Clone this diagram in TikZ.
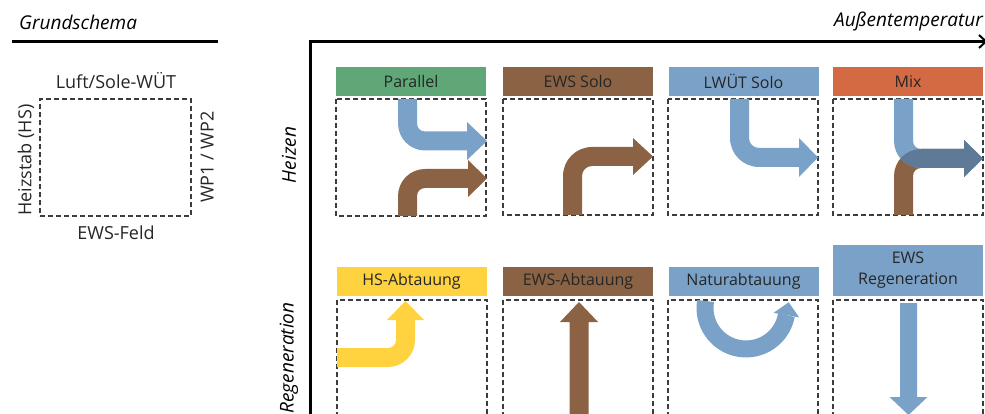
\documentclass[tikz,border=0pt]{standalone}
\usepackage{fontspec}
\setmainfont{Open Sans}
\usetikzlibrary{arrows.meta}

\definecolor{hgreen}{HTML}{5FA777}
\definecolor{hbrown}{HTML}{8B6244}
\definecolor{hblue}{HTML}{7AA2C8}
\definecolor{horange}{HTML}{D46A43}
\definecolor{hyellow}{HTML}{FFD240}
\definecolor{hmix}{HTML}{5E7A96}
\definecolor{txt}{HTML}{262626}
\definecolor{dashcol}{HTML}{3C3C3C}

\tikzset{
  lbl/.style={font=\fontsize{18}{21}\selectfont, text=txt, inner sep=0pt},
  axislbl/.style={font=\fontsize{19}{22}\selectfont\itshape, text=black, inner sep=0pt},
  head/.style={inner sep=0pt, minimum width=150pt, minimum height=29pt,
    font=\fontsize{16}{19}\selectfont, text=txt, align=center},
  frame/.style={draw=dashcol, line width=1.2pt, dash pattern=on 5pt off 3pt},
  axis/.style={line width=3pt, black},
}

\begin{document}
\begin{tikzpicture}[x=1pt, y=-1pt]
\useasboundingbox (0,0) rectangle (985,414);
\clip (0,0) rectangle (985,414);

% ---------- legend: basic scheme ----------
\node[axislbl, anchor=west] (gtitle) at (19,22) {Grundschema};
\coordinate (gl) at (12,41.5);
\coordinate (gr) at (218,41.5);
\draw[axis] (gl) -- (gr);

\node[frame, minimum width=151pt, minimum height=117pt, inner sep=0pt] (gbox) at (115.5,157.5) {};
\node[lbl] (gtop) at (116,81) {Luft/Sole-WÜT};
\node[lbl] (gbot) at (116,233) {EWS-Feld};
\node[lbl, rotate=90] (gleft) at (26,160) {Heizstab (HS)};
\node[lbl, rotate=90] (gright) at (207,157) {WP1 / WP2};

% ---------- axes ----------
\coordinate (origin) at (310,41.5);
\coordinate (ybot) at (310,420);
\coordinate (xend) at (991,41.5);
\draw[axis, line cap=butt] (ybot) -- (origin) -- (xend);
\draw[line width=2pt] (979,35) -- (986,41.5) -- (979,48);
\node[axislbl, anchor=east] (xlbl) at (983,22) {Außentemperatur};
\node[axislbl, rotate=90] (rowA) at (289,155) {Heizen};
\node[axislbl, rotate=90] (rowB) at (289,358) {Regeneration};

% ---------- row 1: heating ----------
\node[head, fill=hgreen]  (h11) at (411,81.5) {Parallel};
\node[head, fill=hbrown]  (h12) at (578,81.5) {EWS Solo};
\node[head, fill=hblue]   (h13) at (743.5,81.5) {LWÜT Solo};
\node[head, fill=horange] (h14) at (908,81.5) {Mix};

\draw[frame] (336,99) rectangle (486,216);
\draw[frame] (503,99) rectangle (653,215);
\draw[frame] (668,99) rectangle (818,215);
\draw[frame] (833,99) rectangle (983,215);

% Parallel: brown and blue side by side
\fill[hbrown] (398,216) -- (398,196) arc[start angle=180, end angle=90, radius=27pt]
  -- (468,169) -- (468,160) -- (487,178.5) -- (468,197) -- (468,188) -- (425,188)
  arc[start angle=90, end angle=180, radius=8pt] -- (417,216) -- cycle;
\fill[hblue] (398,99) -- (398,123.5) arc[start angle=180, end angle=270, radius=27pt]
  -- (467,150.5) -- (467,160) -- (487,141) -- (467,122) -- (467,131.5) -- (425,131.5)
  arc[start angle=270, end angle=180, radius=8pt] -- (417,99) -- cycle;

% EWS Solo
\fill[hbrown] (563,215) -- (563,176) arc[start angle=180, end angle=90, radius=29pt]
  -- (633,147) -- (633,138) -- (653,156.5) -- (633,175) -- (633,166) -- (592,166)
  arc[start angle=90, end angle=180, radius=10pt] -- (582,215) -- cycle;

% LWUET Solo
\fill[hblue] (730,99) -- (730,138) arc[start angle=180, end angle=270, radius=29pt]
  -- (799,167) -- (799,177) -- (818,157.5) -- (799,138) -- (799,148) -- (759,148)
  arc[start angle=270, end angle=180, radius=10pt] -- (749,99) -- cycle;

% Mix: both streams merge, overlap drawn darker
\def\mixbrown{(894,215) -- (894,176) arc[start angle=180, end angle=90, radius=27pt]
  -- (964,149) -- (964,140) -- (983,158.5) -- (964,177) -- (964,168) -- (921,168)
  arc[start angle=90, end angle=180, radius=8pt] -- (913,215) -- cycle}
\def\mixblue{(894,99) -- (894,141) arc[start angle=180, end angle=270, radius=27pt]
  -- (964,168) -- (964,177) -- (983,158.5) -- (964,140) -- (964,149) -- (921,149)
  arc[start angle=270, end angle=180, radius=8pt] -- (913,99) -- cycle}
\fill[hbrown] \mixbrown;
\fill[hblue] \mixblue;
\begin{scope}
  \clip \mixbrown;
  \fill[hmix] \mixblue;
\end{scope}

% ---------- row 2: regeneration ----------
\node[head, fill=hyellow] (h21) at (411.5,281.5) {HS-Abtauung};
\node[head, fill=hbrown]  (h22) at (578,281.5) {EWS-Abtauung};
\node[head, fill=hblue]   (h23) at (743.5,281.5) {Naturabtauung};
\node[head, fill=hblue, minimum height=51pt] (h24) at (908,270.5) {EWS\\[2pt]Regeneration};

\draw[frame] (337,300) rectangle (487,430);
\draw[frame] (503,300) rectangle (653,430);
\draw[frame] (668,300) rectangle (818,430);
\draw[frame] (833,300) rectangle (983,430);

% HS-Abtauung
\fill[hyellow] (337,348) -- (388,348) arc[start angle=270, end angle=360, radius=8pt]
  -- (396,320) -- (387,320) -- (405.5,301) -- (424,320) -- (415,320) -- (415,340)
  arc[start angle=0, end angle=-90, radius=27pt] -- (337,367) -- cycle;

% EWS-Abtauung
\fill[hbrown] (569.5,420) -- (569.5,322) -- (560,322) -- (579,302) -- (598,322)
  -- (588.5,322) -- (588.5,420) -- cycle;

% Naturabtauung
\draw[hblue, line width=17pt] (705.6,301) arc[start angle=170.2, end angle=350, radius=41pt];
\fill[hblue] (773.6,312.8) -- (788.7,302.3) -- (799.2,317.4) -- cycle;

% EWS Regeneration
\fill[hblue] (900,303) -- (917,303) -- (917,397) -- (927.5,397) -- (908.5,415)
  -- (889.5,397) -- (900,397) -- cycle;
\end{tikzpicture}
\end{document}
